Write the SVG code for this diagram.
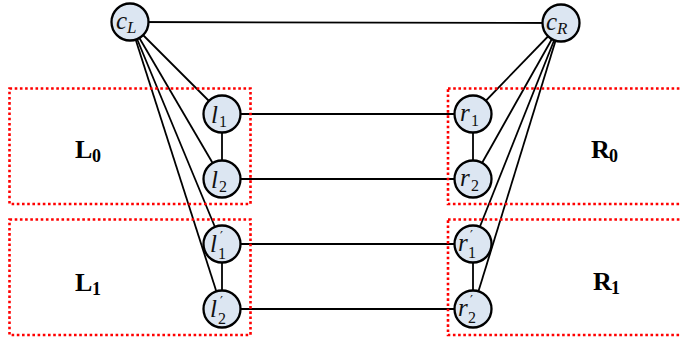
<svg xmlns="http://www.w3.org/2000/svg" width="681" height="340" viewBox="0 0 681 340">
<style>
.e{stroke:#000;stroke-width:1.8;fill:none}
.n{fill:#dce6f2;stroke:#000;stroke-width:2.3}
.b{fill:none;stroke:#ff0000;stroke-width:2.6;stroke-dasharray:2.6 2.6}
.m{font-family:"Liberation Serif","DejaVu Serif",serif;font-style:italic;font-size:25px;fill:#111}
.s{font-family:"Liberation Serif","DejaVu Serif",serif;font-style:normal;font-size:16px}
.p{font-family:"DejaVu Serif",serif;font-style:normal;font-size:13px}
.si{font-size:17px}
.L{font-family:"Liberation Serif","DejaVu Serif",serif;font-weight:bold;font-size:26px;fill:#000}
.Ls{font-size:18px}
</style>
<rect width="681" height="340" fill="#fff"/>
<g id="connectors">
<line class="e" x1="130" y1="22" x2="561" y2="23"/>
<line class="e" x1="130" y1="22" x2="222" y2="114"/>
<line class="e" x1="130" y1="22" x2="222" y2="179"/>
<line class="e" x1="130" y1="22" x2="222" y2="244"/>
<line class="e" x1="130" y1="22" x2="222" y2="309"/>
<line class="e" x1="561" y1="23" x2="473" y2="114"/>
<line class="e" x1="561" y1="23" x2="473" y2="179"/>
<line class="e" x1="561" y1="23" x2="473" y2="244"/>
<line class="e" x1="561" y1="23" x2="473" y2="309"/>
<line class="e" x1="222" y1="114" x2="473" y2="114"/>
<line class="e" x1="222" y1="179" x2="473" y2="179"/>
<line class="e" x1="222" y1="244" x2="473" y2="244"/>
<line class="e" x1="222" y1="309" x2="473" y2="309"/>
<line class="e" x1="222" y1="114" x2="222" y2="179"/>
<line class="e" x1="222" y1="244" x2="222" y2="309"/>
<line class="e" x1="473" y1="114" x2="473" y2="179"/>
<line class="e" x1="473" y1="244" x2="473" y2="309"/>
</g>
<g id="cL"><circle class="n" cx="130" cy="22" r="18.5"/><text class="m" x="116" y="29">c<tspan class="si" x="127" dy="4">L</tspan></text></g>
<g id="cR"><circle class="n" cx="561" cy="23" r="18.5"/><text class="m" x="546" y="30">c<tspan class="si" x="557" dy="4">R</tspan></text></g>
<g id="l1"><circle class="n" cx="222" cy="114" r="18.5"/><text class="m" x="211" y="123">l<tspan class="s" x="219" dy="4">1</tspan></text></g>
<g id="l2"><circle class="n" cx="222" cy="179" r="18.5"/><text class="m" x="211" y="188">l<tspan class="s" x="219" dy="4">2</tspan></text></g>
<g id="l1p"><circle class="n" cx="222" cy="244" r="18.5"/><text class="m" x="210" y="252">l<tspan class="p" x="220" dy="-11">′</tspan><tspan class="s" x="218" dy="18">1</tspan></text></g>
<g id="l2p"><circle class="n" cx="222" cy="309" r="18.5"/><text class="m" x="210" y="317">l<tspan class="p" x="220" dy="-11">′</tspan><tspan class="s" x="218" dy="18">2</tspan></text></g>
<g id="r1"><circle class="n" cx="473" cy="114" r="18.5"/><text class="m" x="460" y="121">r<tspan class="s" x="471" dy="5">1</tspan></text></g>
<g id="r2"><circle class="n" cx="473" cy="179" r="18.5"/><text class="m" x="460" y="186">r<tspan class="s" x="471" dy="5">2</tspan></text></g>
<g id="r1p"><circle class="n" cx="473" cy="244" r="18.5"/><text class="m" x="458" y="251">r<tspan class="p" x="470" dy="-11">′</tspan><tspan class="s" x="468" dy="18">1</tspan></text></g>
<g id="r2p"><circle class="n" cx="473" cy="309" r="18.5"/><text class="m" x="458" y="316">r<tspan class="p" x="470" dy="-11">′</tspan><tspan class="s" x="468" dy="18">2</tspan></text></g>
<g id="L0"><rect class="b" x="9.5" y="88.5" width="241" height="115.5"/><text class="L" x="75" y="158">L<tspan class="Ls" x="92" dy="4">0</tspan></text></g>
<g id="L1"><rect class="b" x="9.5" y="219.5" width="241" height="115.5"/><text class="L" x="75" y="291">L<tspan class="Ls" x="92" dy="4">1</tspan></text></g>
<g id="R0"><rect class="b" x="448" y="88.5" width="245" height="115.5"/><text class="L" x="591" y="158">R<tspan class="Ls" x="609" dy="4">0</tspan></text></g>
<g id="R1"><rect class="b" x="448" y="219.5" width="245" height="115.5"/><text class="L" x="593" y="290">R<tspan class="Ls" x="611" dy="4">1</tspan></text></g>
</svg>
